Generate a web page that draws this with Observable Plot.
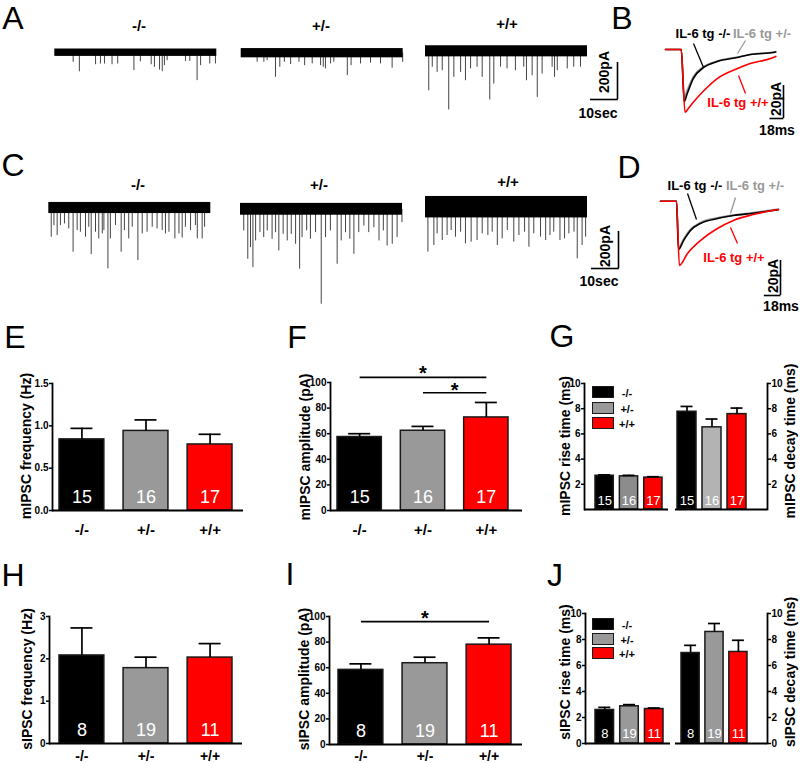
<!DOCTYPE html>
<html><head><meta charset="utf-8">
<script src="https://cdn.jsdelivr.net/npm/d3@7"></script>
<script src="https://cdn.jsdelivr.net/npm/@observablehq/plot@0.6"></script>
<style>
body{margin:0;background:#fff;}
#fig{position:relative;width:800px;height:763px;overflow:hidden;font-family:"Liberation Sans",Arial,Helvetica,sans-serif;background:#fff;}
.t{position:absolute;white-space:nowrap;line-height:1;}
.box{position:absolute;box-sizing:border-box;border:1.5px solid #1a1a1a;}
</style></head><body><div id="fig"></div>
<script>
// ---------------- DATA ----------------
const groups = ["-/-", "+/-", "+/+"];
const groupFills = ["#000000", "#999999", "#ff0000"];
// E: mIPSC frequency (Hz)
const mFreq = [0.84, 0.94, 0.78];
const mFreqSem = [0.13, 0.13, 0.12];
const mN = [15, 16, 17];
// F: mIPSC amplitude (pA)
const mAmp = [57.4, 62.3, 72.7];
const mAmpSem = [2.6, 3.4, 11.7];
const mAmpSig = [{from: "-/-", to: "+/+", y: 104}, {from: "+/-", to: "+/+", y: 92}];
// G: mIPSC rise / decay (ms)
const mRise = [2.68, 2.63, 2.53];
const mRiseSem = [0.07, 0.08, 0.07];
const mDecay = [7.76, 6.52, 7.57];
const mDecaySem = [0.42, 0.66, 0.48];
// H: sIPSC frequency (Hz)
const sFreq = [2.08, 1.78, 2.03];
const sFreqSem = [0.65, 0.26, 0.33];
const sN = [8, 19, 11];
// I: sIPSC amplitude (pA)
const sAmp = [58.3, 63.5, 78.0];
const sAmpSem = [4.7, 4.7, 5.3];
const sAmpSig = [{from: "-/-", to: "+/+", y: 96}];
// J: sIPSC rise / decay (ms)
const sRise = [2.58, 2.86, 2.65];
const sRiseSem = [0.2, 0.13, 0.08];
const sDecay = [6.96, 8.58, 7.04];
const sDecaySem = [0.59, 0.65, 0.9];

// Raw traces: events [time s, amplitude pA], noise half-width (pA), 60 s sweeps
const traceDur = 60;
const mTraceNoise = [20, 25, 30];
const mEvents0 = [[6.8,52],[9.1,103],[15.1,65],[16.9,61],[18.4,61],[21.2,65],[23.3,61],[29.3,97],[31.7,49],[35.7,65],[36.9,79],[38.8,94],[39.8,103],[40.6,70],[41.6,43],[48.4,47],[50.0,47],[52.7,151],[54.0,70],[57.4,61],[59.5,61]];
const mEvents1 = [[5.9,49],[8.4,49],[9.6,40],[12.7,130],[14.3,76],[16.0,49],[18.3,61],[21.4,49],[23.5,67],[26.3,58],[29.4,67],[30.4,76],[31.2,85],[33.1,58],[34.3,49],[39.3,121],[40.7,67],[44.2,58],[47.9,54],[51.6,58],[55.9,81],[59.8,49]];
const mEvents2 = [[1.2,213],[2.5,86],[4.3,114],[6.2,105],[8.6,317],[10.5,141],[13.0,114],[14.8,159],[16.7,95],[19.1,86],[21.0,141],[23.8,263],[25.3,177],[27.8,86],[30.2,95],[33.3,105],[36.4,86],[37.4,159],[39.5,132],[41.4,249],[43.2,123],[46.9,86],[47.8,141],[48.8,105],[52.5,95],[54.9,86],[57.4,86]];
const sTraceNoise = [30, 32, 58];
const sEvents0 = [[0.9,158],[1.9,95],[3.1,149],[4.3,95],[5.8,86],[7.4,113],[9.0,239],[10.5,122],[11.7,131],[13.6,158],[14.8,104],[15.7,252],[17.3,131],[18.5,167],[19.8,140],[20.4,122],[21.9,329],[22.8,167],[24.7,95],[26.8,239],[28.0,122],[29.6,167],[30.9,104],[33.0,284],[34.6,140],[36.4,131],[38.3,104],[40.1,113],[42.0,122],[43.2,140],[44.5,131],[46.7,167],[48.2,140],[49.4,162],[50.6,104],[52.5,122],[54.3,95],[55.0,167],[56.8,167],[57.7,104]];
const sEvents1 = [[1.2,117],[2.7,270],[3.7,207],[4.6,315],[5.6,171],[7.2,126],[8.6,153],[9.9,117],[11.7,162],[13.0,126],[14.2,225],[15.8,135],[17.3,171],[18.8,135],[20.4,189],[21.9,324],[22.8,153],[24.5,117],[25.9,162],[27.8,126],[29.9,513],[31.5,153],[33.3,117],[35.8,297],[37.3,171],[38.9,126],[40.5,162],[42.0,243],[43.8,126],[45.7,90],[47.5,126],[49.4,99],[51.3,171],[52.9,117],[54.3,198],[56.2,189],[58.0,153],[59.8,72]];
const sEvents2 = [[0.9,243],[3.1,207],[4.3,144],[6.2,180],[8.0,153],[9.5,126],[11.1,162],[13.0,135],[14.8,198],[16.9,189],[19.1,180],[21.0,144],[23.1,153],[24.7,135],[26.6,207],[28.4,171],[30.3,126],[32.7,189],[34.6,153],[36.7,135],[38.3,216],[40.1,144],[42.6,162],[44.5,180],[46.1,153],[47.5,135],[49.8,180],[51.5,171],[53.1,144],[55.0,135],[56.2,279],[58.0,207],[59.3,162]];
const traceScalePA = 200, traceScaleSec = 10;

// Averaged events [ms, pA]
const mAvgBlack = [[0,0],[21,0],[25,-31.5],[29,-26.7],[37,-17.6],[51,-10.9],[69,-7.3],[96,-4.8],[113,-3.0],[144,-1.8],[147,-1.5]];
const mAvgGray  = [[0,0],[21,0],[25,-29],[29,-24.5],[37,-16.5],[51,-10.3],[69,-7.0],[96,-4.5],[113,-3.0],[144,-1.5],[147,-1.2]];
const mAvgRed   = [[0,0],[21,0],[26,-38],[30,-36],[37,-32],[51,-25],[69,-17.6],[96,-11.5],[113,-8.5],[140,-5.5],[147,-4.2]];
const sAvgBlack = [[0,0],[17.8,0],[20,-27.6],[25.6,-22.5],[33.3,-16.7],[44.4,-12.7],[63.3,-9.9],[81,-8.2],[103,-6.9],[131,-4.9]];
const sAvgGray  = [[0,0],[17.8,0],[20,-26.5],[25.6,-21.5],[33.3,-16],[44.4,-12.2],[63.3,-9.5],[81,-7.9],[103,-6.5],[131,-4.5]];
const sAvgRed   = [[0,0],[17.8,0],[21,-36.7],[30,-29.9],[44.4,-22.5],[63.3,-15.6],[81,-11.0],[103,-7.6],[131,-4.7]];
const avgScalePA = 20, avgScaleMs = 18;
const avgLabels = ["IL-6 tg -/-", "IL-6 tg +/-", "IL-6 tg +/+"];

// ---------------- HELPERS ----------------
const FONT = '"Liberation Sans", Arial, Helvetica, sans-serif';
const fig = document.getElementById("fig");
function place(svg, left, top) {
  Object.assign(svg.style, {position: "absolute", left: left + "px", top: top + "px", overflow: "visible", maxWidth: "none", background: "transparent"});
  fig.appendChild(svg);
}
function txt(text, cx, cy, {size = 15, weight = "bold", color = "#000", rotate = 0} = {}) {
  const d = document.createElement("div");
  d.className = "t"; d.textContent = text;
  Object.assign(d.style, {left: cx + "px", top: cy + "px", fontSize: size + "px", fontWeight: weight, color,
    transform: "translate(-50%,-50%)" + (rotate ? ` rotate(${rotate}deg)` : "")});
  fig.appendChild(d);
}
function legend(x, ys, fills) {
  ys.forEach((y, i) => {
    const b = document.createElement("div");
    b.className = "box";
    Object.assign(b.style, {left: x + "px", top: y + "px", width: "22px", height: "12px", background: fills[i]});
    fig.appendChild(b);
    txt(groups[i], x + 35, y + 6.5, {size: 11});
  });
}

function barPanel(o) {
  const rows = groups.map((g, i) => ({g, v: o.values[i], e: o.sems[i], n: o.ns[i]}));
  const pi = o.pad ?? 0.3;
  const step = (o.bandR - o.bandL) / (groups.length - pi);
  const bw = step * (1 - pi);
  const capInset = Math.max(0, (bw - o.capW) / 2);
  const anchor = o.yAnchor || "left";
  const marks = [
    Plot.barY(rows, {x: "g", y: "v", fill: "g", stroke: "#1a1a1a", strokeWidth: 1.5}),
    Plot.ruleX(rows, {x: "g", y1: "v", y2: d => d.v + d.e, strokeWidth: 1.7}),
    Plot.tickY(rows, {x: "g", y: d => d.v + d.e, strokeWidth: 1.7, insetLeft: capInset, insetRight: capInset}),
    Plot.text(rows, {x: "g", y: 0, text: d => String(d.n), fill: "white", fontSize: o.numSize, dy: o.numDy}),
    Plot.ruleY([0], {strokeWidth: 1.8}),
    Plot.frame({anchor, strokeWidth: 1.8}),
    Plot.axisY({anchor, ticks: o.ticks, tickFormat: o.tickFormat ?? d3.format("d"), tickSize: 3, tickPadding: 1, fontSize: 10, fontWeight: "bold", label: null, strokeWidth: 1.5})
  ];
  if (o.xLabels) marks.push(Plot.axisX({tickSize: 0, tickPadding: o.xPad ?? 11, fontSize: o.xSize ?? 15, fontWeight: "bold", label: null}));
  for (const s of (o.sigs || [])) {
    const i1 = groups.indexOf(s.from), i2 = groups.indexOf(s.to), mid = (i1 + i2) / 2, fi = Math.floor(mid);
    marks.push(Plot.link([s], {x1: "from", x2: "to", y1: "y", y2: "y", strokeWidth: 1.6}));
    marks.push(Plot.text([s], {x: [groups[fi]], y: "y", text: ["*"], dx: (mid - fi) * step, dy: s.dy ?? -4, fontSize: 20, fontWeight: "bold"}));
  }
  const svg = Plot.plot({
    width: o.width, height: o.height,
    marginLeft: o.frameL - o.left, marginRight: o.left + o.width - o.frameR,
    marginTop: o.frameT - o.top, marginBottom: o.top + o.height - o.frameB,
    x: {type: "band", domain: groups, range: [o.bandL - o.left, o.bandR - o.left], paddingInner: pi, paddingOuter: 0, round: false, axis: null},
    y: {domain: o.domain, axis: null},
    color: {domain: groups, range: o.fills || groupFills},
    style: {fontFamily: FONT},
    marks
  });
  place(svg, o.left, o.top);
}

function tracePlot({left, top, width, height, x0, baseY, kx, ky, marks}) {
  const ix = x0 - left, iy = baseY - top;
  const svg = Plot.plot({
    width, height, marginLeft: 0, marginRight: 0, marginTop: 0, marginBottom: 0,
    x: {domain: [-ix / kx, (width - ix) / kx], range: [0, width], axis: null},
    y: {domain: [-(height - iy) / ky, iy / ky], range: [height, 0], axis: null},
    style: {fontFamily: FONT},
    marks
  });
  place(svg, left, top);
}

function rawTrace(cfg, events, noise, scaleBar) {
  const kx = 2.7, ky = 0.185;
  const marks = [
    Plot.ruleX(events, {x: d => d[0], y1: 0, y2: d => -d[1], stroke: "#444", strokeWidth: 1}),
    Plot.rect([noise], {x1: 0, x2: traceDur, y1: d => -d, y2: d => d, fill: "#000"})
  ];
  if (scaleBar) {
    const bx = (scaleBar.px - cfg.x0) / kx, by = (cfg.baseY - scaleBar.py) / ky;
    marks.push(Plot.ruleX([bx], {y1: by, y2: by + traceScalePA, strokeWidth: 1.6}));
    marks.push(Plot.ruleY([by], {x1: bx - traceScaleSec, x2: bx + 0.3, strokeWidth: 1.6}));
  }
  tracePlot({...cfg, kx, ky, marks});
}

function avgTrace(cfg, series, bar, leaders) {
  const {kx, ky} = cfg;
  const px = p => (p - cfg.x0) / kx, py = p => (cfg.baseY - p) / ky;
  const colors = ["#999999", "#000000", "#ff0000"];
  const marks = [];
  series.forEach((s, i) => marks.push(Plot.line(s, {x: d => d[0], y: d => d[1], stroke: colors[i], strokeWidth: 1.6, curve: "monotone-x"})));
  leaders.forEach(l => marks.push(Plot.link([l], {x1: px(l[0]), y1: py(l[1]), x2: px(l[2]), y2: py(l[3]), stroke: l[4], strokeWidth: 1.3})));
  const bx = px(bar.px), by = py(bar.py);
  marks.push(Plot.ruleX([bx], {y1: by, y2: by + avgScalePA, strokeWidth: 1.6}));
  marks.push(Plot.ruleY([by], {x1: bx - avgScaleMs, x2: bx + 0.5, strokeWidth: 1.6}));
  tracePlot({...cfg, marks});
}

// ---------------- PANEL LETTERS ----------------
[["A",13,18],["B",622,18],["C",13,165],["D",629,167],["E",15,337],["F",297,337],["G",562,336],["H",13,575],["I",290,574],["J",555,575]]
  .forEach(([l, x, y]) => txt(l, x, y, {size: 32, weight: "normal"}));

// ---------------- A ----------------
const aCfg = [
  {left: 50, top: 20, width: 170, height: 100, x0: 54.3, baseY: 52.2},
  {left: 236, top: 20, width: 172, height: 100, x0: 240.7, baseY: 52.7},
  {left: 420, top: 20, width: 230, height: 100, x0: 425, baseY: 50.8}
];
const mEvents = [mEvents0, mEvents1, mEvents2];
aCfg.forEach((c, i) => rawTrace(c, mEvents[i], mTraceNoise[i], i === 2 ? {px: 617, py: 99} : null));
txt(groups[0], 139, 25); txt(groups[1], 321, 25); txt(groups[2], 507, 23);
txt(`${traceScalePA}pA`, 604, 72, {size: 14, rotate: -90});
txt(`${traceScaleSec}sec`, 598, 113, {size: 14});

// ---------------- C ----------------
const cCfg = [
  {left: 44, top: 180, width: 170, height: 130, x0: 48.3, baseY: 207.5},
  {left: 236, top: 180, width: 172, height: 130, x0: 240, baseY: 208.8},
  {left: 420, top: 180, width: 230, height: 130, x0: 425, baseY: 206.7}
];
const sEvents = [sEvents0, sEvents1, sEvents2];
cCfg.forEach((c, i) => rawTrace(c, sEvents[i], sTraceNoise[i], i === 2 ? {px: 618, py: 268} : null));
txt(groups[0], 138, 184); txt(groups[1], 319, 184); txt(groups[2], 508, 181);
txt(`${traceScalePA}pA`, 605, 246, {size: 14, rotate: -90});
txt(`${traceScaleSec}sec`, 599, 281, {size: 14});

// ---------------- B ----------------
avgTrace({left: 650, top: 20, width: 150, height: 125, x0: 665, baseY: 49, kx: 0.75, ky: 1.65},
  [mAvgGray, mAvgBlack, mAvgRed], {px: 783, py: 118},
  [[693, 43, 703, 67, "#000"], [745, 40, 737, 53, "#999"], [738, 75, 745, 93, "#ff0000"]]);
txt(avgLabels[0], 703, 33, {size: 13});
txt(avgLabels[1], 762, 33, {size: 13, color: "#999"});
txt(avgLabels[2], 738, 102, {size: 13, color: "#ff0000"});
txt(`${avgScalePA}pA`, 776, 99, {size: 14, rotate: -90});
txt(`${avgScaleMs}ms`, 777, 130, {size: 14});

// ---------------- D ----------------
avgTrace({left: 650, top: 170, width: 150, height: 140, x0: 660, baseY: 200.7, kx: 0.9, ky: 1.75},
  [sAvgGray, sAvgBlack, sAvgRed], {px: 780, py: 295},
  [[687, 193, 696, 219, "#000"], [735, 197, 730, 213, "#999"], [730, 227, 737, 243, "#ff0000"]]);
txt(avgLabels[0], 695, 185, {size: 13});
txt(avgLabels[1], 755, 185, {size: 13, color: "#999"});
txt(avgLabels[2], 734, 257, {size: 13, color: "#ff0000"});
txt(`${avgScalePA}pA`, 773, 276, {size: 14, rotate: -90});
txt(`${avgScaleMs}ms`, 781, 306, {size: 14});

// ---------------- E ----------------
barPanel({left: 0, top: 360, width: 260, height: 190, frameL: 52, frameR: 243, frameT: 383, frameB: 510,
  bandL: 59, bandR: 232, values: mFreq, sems: mFreqSem, ns: mN, domain: [0, 1.5], ticks: [0, 0.5, 1, 1.5],
  tickFormat: d3.format(".1f"), numSize: 18, numDy: -13.4, capW: 22, xLabels: true, xPad: 14});
txt("mIPSC frequency (Hz)", 26, 446, {size: 14, rotate: -90});

// ---------------- F ----------------
barPanel({left: 265, top: 350, width: 270, height: 200, frameL: 330, frameR: 522, frameT: 382, frameB: 510,
  bandL: 337, bandR: 508, values: mAmp, sems: mAmpSem, ns: mN, domain: [0, 100], ticks: [0, 20, 40, 60, 80, 100],
  numSize: 18, numDy: -13.4, capW: 22, xLabels: true, xPad: 14, sigs: [{...mAmpSig[0], dy: -4}, {...mAmpSig[1], dy: -2}]});
txt("mIPSC amplitude (pA)", 305, 447, {size: 14, rotate: -90});

// ---------------- G ----------------
barPanel({left: 540, top: 360, width: 135, height: 175, frameL: 584, frameR: 668, frameT: 383, frameB: 509,
  bandL: 595, bandR: 662, pad: 0.25, values: mRise, sems: mRiseSem, ns: mN, domain: [0, 10], ticks: [2, 4, 6, 8, 10],
  numSize: 13, numDy: -8.7, capW: 12, xLabels: false, fills: ["#000", "#8c8c8c", "#ff0000"]});
barPanel({left: 670, top: 360, width: 120, height: 175, frameL: 675, frameR: 767, frameT: 383, frameB: 509,
  bandL: 677, bandR: 746, pad: 0.24, values: mDecay, sems: mDecaySem, ns: mN, domain: [0, 10], ticks: [2, 4, 6, 8, 10],
  numSize: 13, numDy: -8.7, capW: 12, xLabels: false, yAnchor: "right", fills: ["#000", "#b3b3b3", "#ff0000"]});
txt("mIPSC rise time (ms)", 565, 446, {size: 14, rotate: -90});
txt("mIPSC decay time (ms)", 790, 441, {size: 14, rotate: -90});
legend(592, [386, 402, 417], ["#000", "#999", "#ff0000"]);

// ---------------- H ----------------
barPanel({left: 0, top: 590, width: 260, height: 173, frameL: 49, frameR: 242, frameT: 616, frameB: 743,
  bandL: 59, bandR: 232, values: sFreq, sems: sFreqSem, ns: sN, domain: [0, 3], ticks: [0, 1, 2, 3],
  numSize: 18, numDy: -13.4, capW: 22, xLabels: true, xPad: 8, xSize: 14});
txt("sIPSC frequency (Hz)", 27, 679, {size: 14, rotate: -90});

// ---------------- I ----------------
barPanel({left: 265, top: 590, width: 270, height: 173, frameL: 329, frameR: 522, frameT: 616, frameB: 744,
  bandL: 338, bandR: 511, values: sAmp, sems: sAmpSem, ns: sN, domain: [0, 100], ticks: [0, 20, 40, 60, 80, 100],
  numSize: 18, numDy: -13.4, capW: 22, xLabels: true, xPad: 7, xSize: 14, sigs: [{...sAmpSig[0], dy: -3}]});
txt("sIPSC amplitude (pA)", 304, 679, {size: 14, rotate: -90});

// ---------------- J ----------------
barPanel({left: 540, top: 590, width: 135, height: 170, frameL: 585, frameR: 670, frameT: 613, frameB: 743,
  bandL: 595, bandR: 663, pad: 0.25, values: sRise, sems: sRiseSem, ns: sN, domain: [0, 10], ticks: [0, 2, 4, 6, 8, 10],
  numSize: 13, numDy: -9.6, capW: 12, xLabels: false});
barPanel({left: 670, top: 590, width: 120, height: 170, frameL: 675, frameR: 767, frameT: 613, frameB: 743,
  bandL: 681, bandR: 747, pad: 0.24, values: sDecay, sems: sDecaySem, ns: sN, domain: [0, 10], ticks: [0, 2, 4, 6, 8, 10],
  numSize: 13, numDy: -9.6, capW: 12, xLabels: false, yAnchor: "right"});
txt("sIPSC rise time (ms)", 565, 672, {size: 14, rotate: -90});
txt("sIPSC decay time (ms)", 790, 672, {size: 14, rotate: -90});
legend(592, [618, 633, 647], ["#000", "#999", "#ff0000"]);
</script></body></html>
